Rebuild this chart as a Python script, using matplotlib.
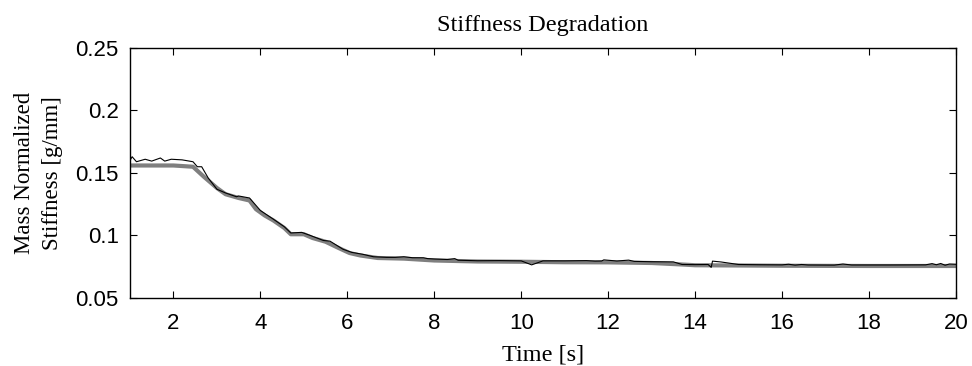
import numpy as np
import matplotlib
matplotlib.use("Agg")
import matplotlib.pyplot as plt

# smoothed (gray) stiffness
t_smooth = [1.0, 2.0, 2.45, 2.7, 3.0, 3.2, 3.5, 3.75, 3.9, 4.1, 4.3, 4.55, 4.7,
            5.0, 5.2, 5.5, 5.8, 6.05, 6.3, 6.7, 7.3, 8.0, 9.0, 10.0, 11.0, 12.0,
            13.0, 13.7, 14.0, 15.0, 16.0, 17.0, 18.0, 19.0, 20.0]
k_smooth = [0.156, 0.156, 0.155, 0.147, 0.138, 0.133, 0.130, 0.128, 0.121, 0.116,
            0.112, 0.106, 0.101, 0.101, 0.098, 0.095, 0.090, 0.086, 0.084, 0.082,
            0.0815, 0.0800, 0.0792, 0.0790, 0.0786, 0.0785, 0.0780, 0.0768, 0.0762,
            0.0760, 0.0758, 0.0757, 0.0756, 0.0756, 0.0756]

# raw (black) stiffness
t_raw = [1.0, 1.05, 1.15, 1.35, 1.5, 1.7, 1.8, 1.95, 2.2, 2.45, 2.55, 2.65, 2.8,
         3.0, 3.2, 3.45, 3.5, 3.75, 3.9, 4.0, 4.3, 4.55, 4.7, 4.95, 5.15, 5.45,
         5.6, 5.9, 6.1, 6.35, 6.6, 6.9, 7.1, 7.3, 7.5, 7.75, 7.85, 8.0, 8.3,
         8.47, 8.55, 9.0, 9.5, 10.0, 10.24, 10.5, 11.0, 11.5, 11.7, 11.85, 11.9,
         12.2, 12.47, 12.6, 13.0, 13.5, 13.7, 14.0, 14.3, 14.37, 14.4, 14.6, 15.0,
         15.5, 16.0, 16.15, 16.3, 16.45, 16.6, 17.2, 17.4, 17.6, 18.5, 19.3,
         19.45, 19.55, 19.65, 19.75, 19.85, 20.0]
k_raw = [0.160, 0.163, 0.159, 0.161, 0.1595, 0.162, 0.1595, 0.161, 0.1605, 0.159,
         0.155, 0.155, 0.146, 0.137, 0.134, 0.131, 0.1316, 0.130, 0.124, 0.120,
         0.113, 0.107, 0.102, 0.1025, 0.100, 0.096, 0.0955, 0.089, 0.0865, 0.085,
         0.083, 0.0825, 0.0825, 0.083, 0.0822, 0.0822, 0.0815, 0.0812, 0.0808,
         0.0815, 0.0802, 0.0798, 0.0799, 0.0797, 0.0765, 0.0797, 0.0797, 0.0799,
         0.0795, 0.0796, 0.0805, 0.0796, 0.0803, 0.0793, 0.0790, 0.0789, 0.0768,
         0.0767, 0.0768, 0.0745, 0.0795, 0.0788, 0.0768, 0.0766, 0.0765, 0.0770,
         0.0763, 0.0768, 0.0764, 0.0763, 0.0772, 0.0764, 0.0764, 0.0765, 0.0775,
         0.0766, 0.0776, 0.0762, 0.0772, 0.0770]

xticks = [2, 4, 6, 8, 10, 12, 14, 16, 18, 20]
yticks = [0.05, 0.1, 0.15, 0.2, 0.25]
ylabels = ["0.05", "0.1", "0.15", "0.2", "0.25"]

serif = "Liberation Serif"
sans = "Liberation Sans"

fig = plt.figure(figsize=(9.72, 3.66), dpi=100)
ax = fig.add_axes([0.1337, 0.1858, 0.8498, 0.6831])

ax.plot(t_smooth, k_smooth, color="#7f7f7f", lw=3.0, solid_joinstyle="round")
ax.plot(t_raw, k_raw, color="black", lw=0.8)

ax.set_xlim(1, 20)
ax.set_ylim(0.05, 0.25)
ax.set_xticks(xticks)
ax.set_yticks(yticks)
ax.set_yticklabels(ylabels)
ax.tick_params(direction="in", top=True, right=True, length=5, width=0.8,
               labelsize=16)
ax.tick_params(axis="x", pad=10.5)
ax.tick_params(axis="y", pad=8)
for lab in ax.get_xticklabels() + ax.get_yticklabels():
    lab.set_fontfamily(sans)
for s in ax.spines.values():
    s.set_linewidth(1.0)

ax.set_title("Stiffness Degradation", fontfamily=serif, fontsize=17.5, pad=12)
ax.set_xlabel("Time [s]", fontfamily=serif, fontsize=17.5, labelpad=8)
ax.set_ylabel("Mass Normalized\nStiffness [g/mm]", fontfamily=serif, fontsize=16.5,
              labelpad=9, linespacing=1.45)

fig.savefig("out.png", dpi=100)
